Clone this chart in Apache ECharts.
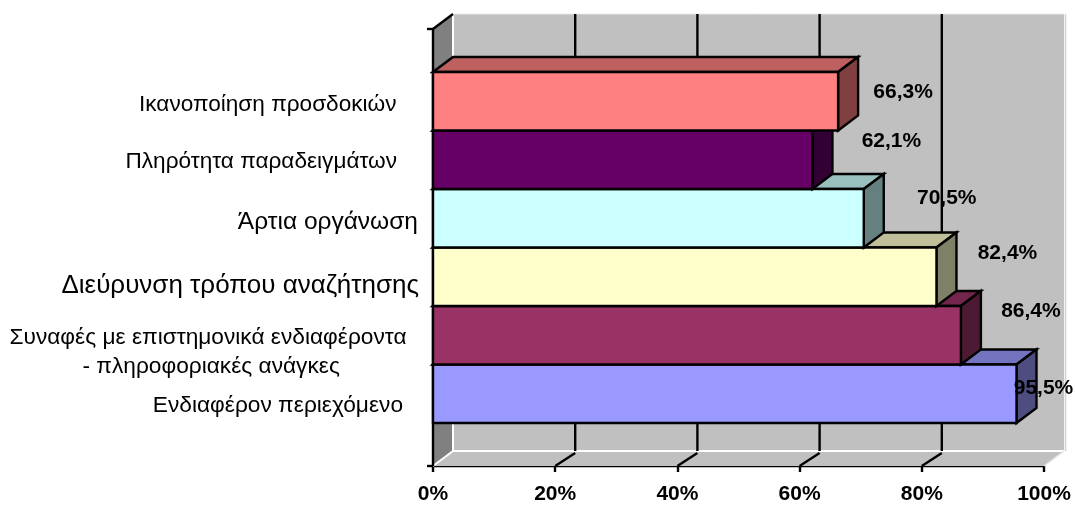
<!DOCTYPE html>
<html><head><meta charset="utf-8">
<style>html,body{margin:0;padding:0;background:#fff}#c{width:1075px;height:505px}</style>
<script src="https://cdn.jsdelivr.net/npm/echarts@6/dist/echarts.min.js"></script>
</head><body><div id="c"></div>
<script>
const categories = ['Ικανοποίηση προσδοκιών','Πληρότητα παραδειγμάτων','Άρτια οργάνωση','Διεύρυνση τρόπου αναζήτησης','Συναφές με επιστημονικά ενδιαφέροντα\n - πληροφοριακές ανάγκες','Ενδιαφέρον περιεχόμενο'];
const values = [66.3,62.1,70.5,82.4,86.4,95.5];
const barColors = ['#FF8080','#660066','#CCFFFF','#FFFFCC','#993366','#9999FF'];
const tickValues = [0,20,40,60,80,100];

// presentation only: free-floating text boxes of the original, relative to each row
const catStyle = [
  {size:22.6,right:396.5,dy:3.5},{size:22.6,right:397,dy:2.5},{size:24.5,right:418,dy:3.5},
  {size:26,right:419,dy:9},{size:22.7,right:406,dy:16.5},{size:22.7,right:403,dy:11.5}
];
const valueShift = [[65,-9],[79,-19],[83,-20],[71,-23.5],[70,-24],[27,-6]];
const DX = 20, DY = -15, PAD = 43, FONT = '"Liberation Sans",Arial,sans-serif', LW = 2.4;

function shade(hex,f){
  const n=parseInt(hex.slice(1),16);
  const c=[n>>16,(n>>8)&255,n&255].map(v=>Math.round(v*f));
  return 'rgb('+c.join(',')+')';
}
const stroke={stroke:'#000',lineWidth:LW,lineJoin:'miter'};

function renderFrame(p,api){
  const band=api.size([0,1])[1];
  const t=api.coord([0,0])[1]-band/2-PAD, b=api.coord([0,categories.length-1])[1]+band/2+PAD;
  const x0=api.coord([0,0])[0], x1=api.coord([100,0])[0];
  const ch=[];
  const white={stroke:'#fff',lineWidth:2};
  const black={stroke:'#000',lineWidth:LW};
  ch.push({type:'polygon',shape:{points:[[x0,b],[x1,b],[x1+DX,b+DY],[x0+DX,b+DY]]},style:{fill:'#C0C0C0'}});
  ch.push({type:'rect',shape:{x:x0+DX,y:t+DY,width:x1-x0,height:b-t},style:{fill:'#C0C0C0'}});
  ch.push({type:'polygon',shape:{points:[[x0,t],[x0+DX,t+DY],[x0+DX,b+DY],[x0,b]]},style:{fill:'#808080'}});
  ch.push({type:'polyline',shape:{points:[[x0+DX,t+DY],[x0+DX,b+DY],[x1+DX,b+DY]]},style:{fill:'none',...white}});
  ch.push({type:'line',shape:{x1:x0+DX,y1:t+DY,x2:x1+DX,y2:t+DY},style:{stroke:'#e8e8e8',lineWidth:1}});
  ch.push({type:'line',shape:{x1:x1+DX+1.5,y1:t+DY,x2:x1+DX+1.5,y2:b+DY},style:{stroke:'#d0d0d0',lineWidth:1.5}});
  ch.push({type:'line',shape:{x1:x0,y1:b,x2:x0+DX,y2:b+DY},style:white});
  ch.push({type:'line',shape:{x1:x1,y1:b,x2:x1+DX,y2:b+DY},style:{stroke:'#e4e4e4',lineWidth:1.5}});
  tickValues.slice(1,-1).forEach(v=>{
    const x=api.coord([v,0])[0];
    ch.push({type:'line',shape:{x1:x+DX,y1:t+DY,x2:x+DX,y2:b+DY},style:black});
    ch.push({type:'line',shape:{x1:x,y1:b,x2:x+DX,y2:b+DY+2},style:black});
  });
  ch.push({type:'line',shape:{x1:x0,y1:t,x2:x0+DX,y2:t+DY},style:black});
  ch.push({type:'line',shape:{x1:x0,y1:t,x2:x0,y2:b},style:black});
  ch.push({type:'line',shape:{x1:x0-6,y1:t,x2:x0,y2:t},style:black});
  ch.push({type:'line',shape:{x1:x0-6,y1:b,x2:x0,y2:b},style:black});
  return {type:'group',children:ch};
}
function renderBar(p,api){
  const v=api.value(0), i=api.value(1);
  const band=api.size([0,1])[1];
  const c=api.coord([v,i]), x0=api.coord([0,i])[0];
  const t=c[1]-band/2, b=c[1]+band/2, x=c[0], col=barColors[i];
  return {type:'group',children:[
    {type:'polygon',shape:{points:[[x0,t],[x0+DX,t+DY],[x+DX,t+DY],[x,t]]},style:{fill:shade(col,.75),...stroke}},
    {type:'polygon',shape:{points:[[x,t],[x+DX,t+DY],[x+DX,b+DY],[x,b]]},style:{fill:shade(col,.5),...stroke}},
    {type:'rect',shape:{x:x0,y:t,width:x-x0,height:b-t},style:{fill:col,...stroke}}
  ]};
}
function renderValue(p,api){
  const v=api.value(0), i=api.value(1), c=api.coord([v,i]);
  return {type:'text',style:{text:v.toFixed(1).replace('.',',')+'%',x:c[0]+valueShift[i][0],y:c[1]+valueShift[i][1],
    fill:'#000',fontFamily:FONT,fontWeight:'bold',fontSize:21,align:'center',verticalAlign:'middle'}};
}
function renderCat(p,api){
  const i=api.value(1), c=api.coord([0,i]), s=catStyle[i];
  const multi=categories[i].indexOf('\n')>=0;
  return {type:'text',style:{text:categories[i],x:multi?(s.right-(s.right-10)/2):s.right,y:c[1]+s.dy,
    fill:'#000',fontFamily:FONT,fontSize:s.size,lineHeight:29,align:multi?'center':'right',verticalAlign:'middle'}};
}
const barData=values.map((v,i)=>[v,i]).reverse();
const chart=echarts.init(document.getElementById('c'),null,{renderer:'canvas'});
chart.setOption({
  animation:false,
  grid:{left:433,right:31,top:72,bottom:80,containLabel:false},
  xAxis:{type:'value',min:0,max:100,interval:20,offset:43,
    axisLine:{show:true,lineStyle:{color:'#000',width:LW}},
    axisTick:{show:true,length:6,lineStyle:{color:'#000',width:LW}},
    splitLine:{show:false},
    axisLabel:{formatter:'{value}%',color:'#000',fontFamily:FONT,fontWeight:'bold',fontSize:21,margin:18,hideOverlap:false}},
  yAxis:{type:'category',inverse:true,data:categories,
    axisLine:{show:false},axisTick:{show:false},axisLabel:{show:false},splitLine:{show:false}},
  series:[
    {type:'custom',name:'frame',z:1,clip:false,data:[[0,0]],encode:{x:0,y:1},renderItem:renderFrame,silent:true},
    {type:'custom',name:'bars',z:2,clip:false,data:barData,encode:{x:0,y:1},renderItem:renderBar},
    {type:'custom',name:'values',z:3,clip:false,data:barData,encode:{x:0,y:1},renderItem:renderValue},
    {type:'custom',name:'categories',z:3,clip:false,data:barData,encode:{x:0,y:1},renderItem:renderCat}
  ]
});
</script></body></html>
